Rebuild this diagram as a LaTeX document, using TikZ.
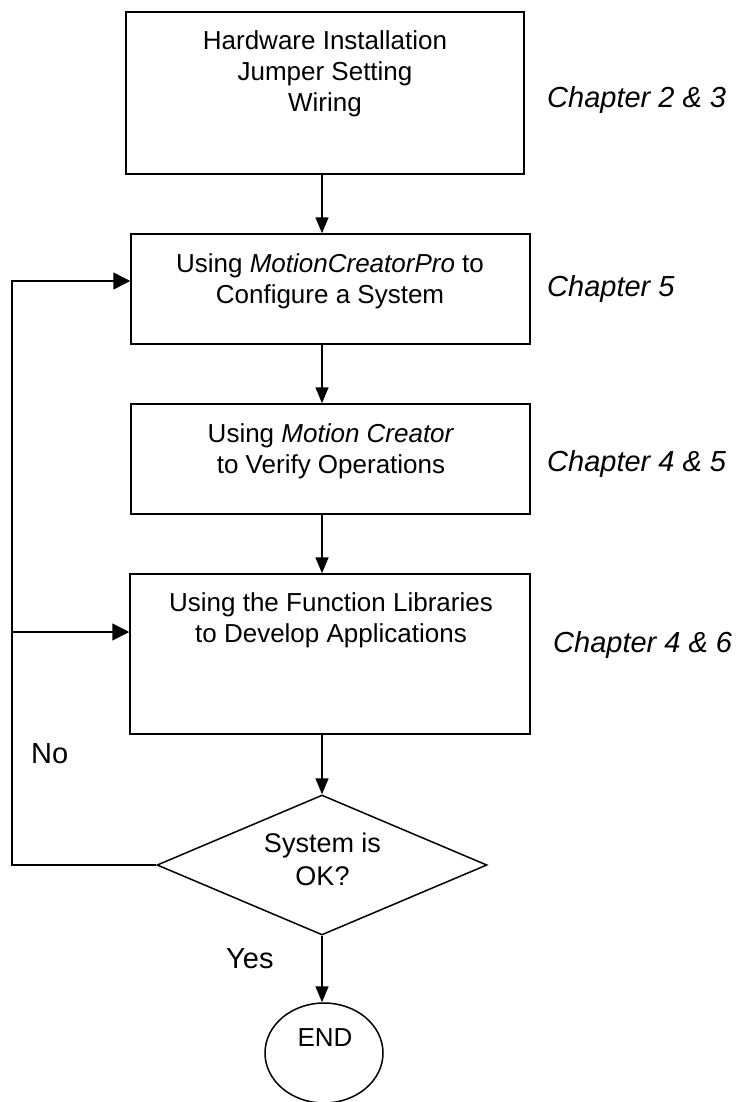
\documentclass[tikz,border=0pt]{standalone}
\usepackage{fontspec}
\setmainfont{Liberation Sans}
\usetikzlibrary{shapes.geometric,arrows.meta}
\begin{document}
\begin{tikzpicture}[x=1pt,y=-1pt,
  boxst/.style={draw, line width=1.5pt, rectangle, inner sep=0pt},
  txt/.style={font=\fontsize{26}{31}\selectfont, align=center, inner sep=0pt, anchor=north},
  chap/.style={font=\fontsize{29}{34}\selectfont\itshape, inner sep=0pt, anchor=base west},
  lbl/.style={font=\fontsize{29}{34}\selectfont, inner sep=0pt, anchor=base west},
  flow/.style={line width=1.5pt, -{Triangle[length=16pt,width=13pt]}},
  loopar/.style={line width=1.5pt, line join=miter, -{Triangle[length=17pt,width=17pt]}}]
\useasboundingbox (0,0) rectangle (737,1102);

% boxes
\node[boxst, minimum width=398pt, minimum height=162pt] (b1) at (325,93) {};
\node[boxst, minimum width=399pt, minimum height=110pt] (b2) at (330.5,289) {};
\node[boxst, minimum width=399pt, minimum height=110pt] (b3) at (330.5,459) {};
\node[boxst, minimum width=400pt, minimum height=160pt] (b4) at (330,654) {};
\node[draw, line width=1.5pt, diamond, aspect=2.36, inner sep=0pt,
      minimum width=330pt, minimum height=140pt] (dia) at (322,865) {};
\node[draw, line width=1.5pt, ellipse, inner sep=0pt,
      minimum width=118pt, minimum height=100pt] (endn) at (324,1053) {};

% texts
\node[txt] (t1) at (325,30) {Hardware Installation\\Jumper Setting\\Wiring};
\node[txt] (t2) at (330,253) {Using \textit{MotionCreatorPro} to\\Configure a System};
\node[txt] (t3) at (331,423) {Using \textit{Motion Creator}\\to Verify Operations};
\node[txt] (t4) at (331,592) {Using the Function Libraries\\to Develop Applications};
\node[txt, font=\fontsize{27}{33}\selectfont] (dt) at (322.5,833) {System is\\OK?};
\node[font=\fontsize{26}{31}\selectfont, inner sep=0pt, anchor=base] (et) at (325,1046) {END};

\node[chap] (c1) at (547,108) {Chapter 2 \& 3};
\node[chap] (c2) at (547,296) {Chapter 5};
\node[chap] (c3) at (547,471) {Chapter 4 \& 5};
\node[chap] (c4) at (553,652) {Chapter 4 \& 6};
\node[lbl] (no) at (31,763) {No};
\node[lbl] (yes) at (226,968) {Yes};

% connectors
\coordinate (ax) at (322,0);
\coordinate (lx) at (12,0);
\coordinate (y2) at (0,281);
\coordinate (y4) at (0,632);
\draw[flow] (b1.south -| ax) -- (b2.north -| ax);
\draw[flow] (b2.south -| ax) -- (b3.north -| ax);
\draw[flow] (b3.south -| ax) -- (b4.north -| ax);
\draw[flow] (b4.south -| ax) -- (dia.north);
\draw[flow] (dia.south) -- (dia.south |- endn.north);
\draw[loopar] (dia.west) -- (dia.west -| lx) -- (lx |- y2) -- (b2.west |- y2);
\draw[loopar] (lx |- y4) -- (b4.west |- y4);
\end{tikzpicture}
\end{document}
